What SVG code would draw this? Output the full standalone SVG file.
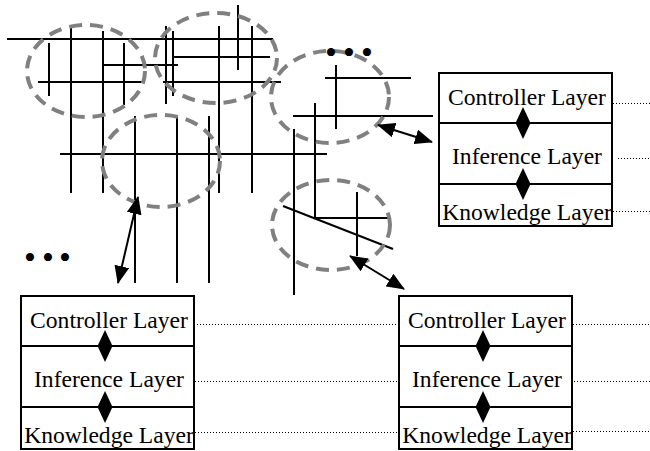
<svg xmlns="http://www.w3.org/2000/svg" width="650" height="451" viewBox="0 0 650 451">
  <style>
    .net line { stroke: #000; stroke-width: 2; fill: none; }
    .cluster { fill: none; stroke: #808080; stroke-width: 4; stroke-dasharray: 13 8; }
    .box { fill: #fff; stroke: #000; stroke-width: 2; }
    .div { stroke: #000; stroke-width: 2; }
    .lbl { font-family: "Liberation Serif", "Times New Roman", serif; font-size: 23.6px; fill: #000; text-anchor: middle; }
    .dots { font-family: "Liberation Serif", "Times New Roman", serif; font-size: 34px; fill: #000; text-anchor: middle; }
    .link { stroke: #000; stroke-width: 2; fill: none; marker-start: url(#head); marker-end: url(#head); }
    .tie { stroke: #000; stroke-width: 1; stroke-dasharray: 1 2; fill: none; }
  </style>
  <defs>
    <marker id="head" viewBox="0 0 18 15" markerWidth="18" markerHeight="15" markerUnits="userSpaceOnUse" refX="17" refY="7.5" orient="auto-start-reverse">
      <path d="M0,0 L18,7.5 L0,15 Z" fill="#000"/>
    </marker>
    <path id="diamond" d="M0,-16 L7.5,0 L0,16 L-7.5,0 Z" fill="#000"/>
    <g id="agent">
      <rect class="box" x="0" y="0" width="173" height="153"/>
      <line class="div" x1="0" y1="50" x2="173" y2="50"/>
      <line class="div" x1="0" y1="111" x2="173" y2="111"/>
      <text class="lbl" x="88" y="32">Controller Layer</text>
      <text class="lbl" x="88" y="91">Inference Layer</text>
      <text class="lbl" x="88" y="147">Knowledge Layer</text>
      <use href="#diamond" x="84" y="50"/>
      <use href="#diamond" x="84" y="111"/>
    </g>
  </defs>

  <!-- network of horizontal and vertical links -->
  <g id="network" class="net">
    <line x1="7" y1="39" x2="273" y2="39"/>
    <line x1="173" y1="57" x2="270" y2="57"/>
    <line x1="103" y1="65" x2="178" y2="65"/>
    <line x1="38" y1="82" x2="142" y2="82"/>
    <line x1="163" y1="82" x2="281" y2="82"/>
    <line x1="60" y1="154" x2="327" y2="154"/>
    <line x1="325" y1="78" x2="411" y2="78"/>
    <line x1="293" y1="116" x2="433" y2="116"/>
    <line x1="315" y1="218" x2="390" y2="218"/>
    <line x1="283" y1="206" x2="393" y2="249"/>
    <line x1="49" y1="43" x2="49" y2="96"/>
    <line x1="71" y1="26" x2="71" y2="193"/>
    <line x1="103" y1="31" x2="103" y2="193"/>
    <line x1="124" y1="43" x2="124" y2="105"/>
    <line x1="166" y1="26" x2="166" y2="104"/>
    <line x1="173" y1="31" x2="173" y2="96"/>
    <line x1="219" y1="26" x2="219" y2="193"/>
    <line x1="238" y1="5" x2="238" y2="70"/>
    <line x1="252" y1="26" x2="252" y2="193"/>
    <line x1="135" y1="116" x2="135" y2="283"/>
    <line x1="177" y1="116" x2="177" y2="283"/>
    <line x1="209" y1="116" x2="209" y2="283"/>
    <line x1="294" y1="129" x2="294" y2="295"/>
    <line x1="315" y1="103" x2="315" y2="218"/>
    <line x1="336" y1="65" x2="336" y2="129"/>
    <line x1="357" y1="192" x2="357" y2="256"/>
  </g>

  <!-- dashed clusters -->
  <g id="clusters">
    <ellipse class="cluster" cx="86" cy="71" rx="59" ry="46"/>
    <ellipse class="cluster" cx="216" cy="58" rx="61" ry="45"/>
    <ellipse class="cluster" cx="330" cy="97" rx="59" ry="46"/>
    <ellipse class="cluster" cx="161" cy="161" rx="59" ry="46"/>
    <ellipse class="cluster" cx="331" cy="225" rx="59" ry="45"/>
  </g>

  <g id="ellipsis">
    <text class="dots" x="331" y="64">•</text>
    <text class="dots" x="349" y="64">•</text>
    <text class="dots" x="367" y="64">•</text>
    <text class="dots" x="30" y="269">•</text>
    <text class="dots" x="48" y="269">•</text>
    <text class="dots" x="65" y="269">•</text>
  </g>

  <!-- agents -->
  <g id="agent-top-right"><use href="#agent" x="439" y="73"/></g>
  <g id="agent-bottom-left"><use href="#agent" x="21" y="296"/></g>
  <g id="agent-bottom-right"><use href="#agent" x="399" y="296"/></g>

  <!-- connectors -->
  <g id="connectors">
    <line class="link" x1="378" y1="125" x2="432" y2="142"/>
    <line class="link" x1="138" y1="197" x2="118" y2="283"/>
    <line class="link" x1="350" y1="256" x2="404" y2="289"/>
    <line class="tie" x1="613" y1="103.5" x2="650" y2="103.5"/>
    <line class="tie" x1="618" y1="158.5" x2="650" y2="158.5"/>
    <line class="tie" x1="613" y1="211.5" x2="650" y2="211.5"/>
    <line class="tie" x1="194" y1="324.5" x2="399" y2="324.5"/>
    <line class="tie" x1="195" y1="381.5" x2="399" y2="381.5"/>
    <line class="tie" x1="195" y1="432.5" x2="399" y2="432.5"/>
    <line class="tie" x1="573" y1="324.5" x2="650" y2="324.5"/>
    <line class="tie" x1="574" y1="381.5" x2="650" y2="381.5"/>
    <line class="tie" x1="573" y1="431.5" x2="650" y2="431.5"/>
  </g>
</svg>
